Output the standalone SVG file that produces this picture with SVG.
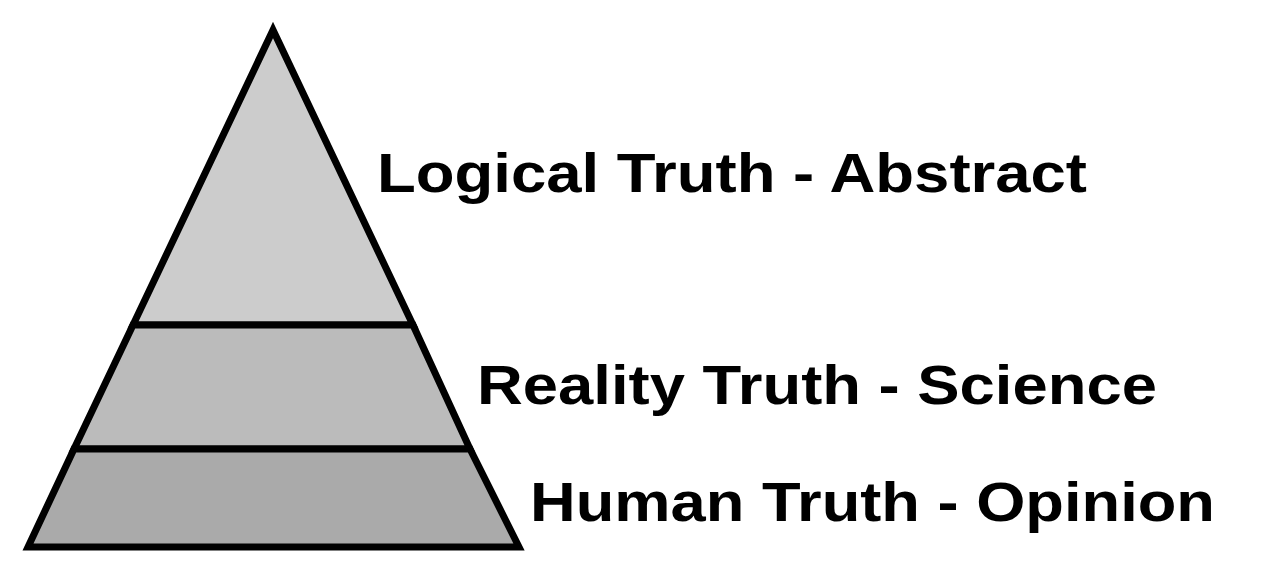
<svg xmlns="http://www.w3.org/2000/svg" width="1264" height="576" viewBox="0 0 1264 576">
<style>
.t{font-family:"Liberation Sans",Arial,sans-serif;font-weight:bold;font-size:56px;fill:#000}
.s{stroke:#000;stroke-width:7;stroke-linejoin:miter}
</style>
<rect width="1264" height="576" fill="#fff"/>
<g id="top"><polygon class="s" points="273,30 133,325 413,325" fill="#cccccc"/></g>
<g id="middle"><polygon class="s" points="133,325 413,325 470,449 74,449" fill="#bbbbbb"/></g>
<g id="bottom"><polygon class="s" points="74,449 470,449 519,547 28,547" fill="#aaaaaa"/></g>
<text class="t" x="377" y="192" textLength="710" lengthAdjust="spacingAndGlyphs">Logical Truth - Abstract</text>
<text class="t" x="477" y="404" textLength="680" lengthAdjust="spacingAndGlyphs">Reality Truth - Science</text>
<text class="t" x="530" y="521" textLength="685" lengthAdjust="spacingAndGlyphs">Human Truth - Opinion</text>
<g id="connectors"/>
</svg>
